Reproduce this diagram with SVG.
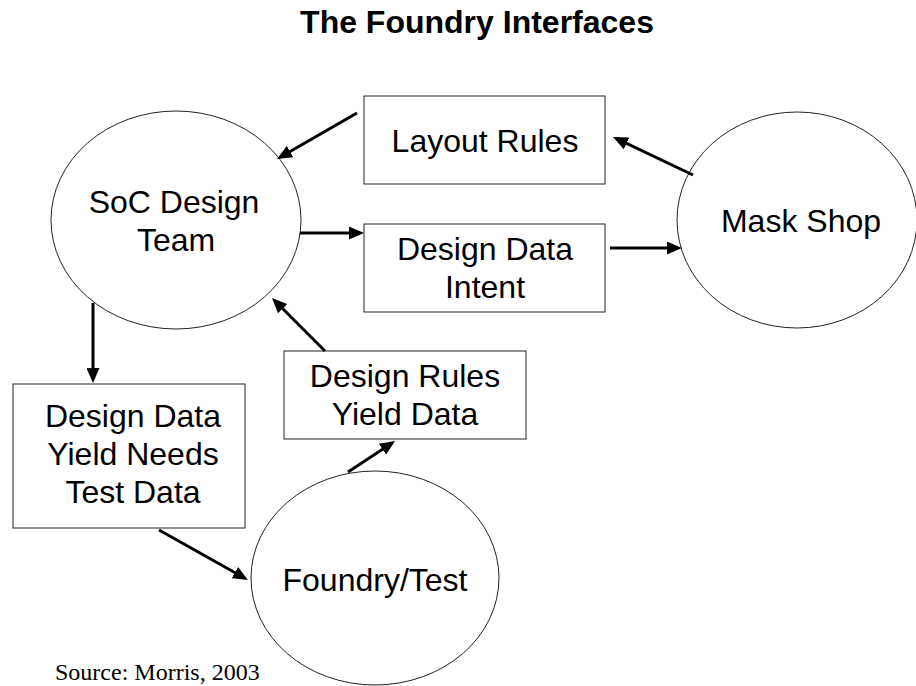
<svg xmlns="http://www.w3.org/2000/svg" width="916" height="686" viewBox="0 0 916 686">
<style>
.shape{fill:#fff;stroke:#222;stroke-width:1}
.lbl{font-family:"Liberation Sans",Arial,sans-serif;font-size:32px;fill:#000;text-anchor:middle}
.title{font-family:"Liberation Sans",Arial,sans-serif;font-size:32px;font-weight:bold;fill:#000;text-anchor:middle}
.src{font-family:"Liberation Serif","Times New Roman",serif;font-size:24px;fill:#000}
.conn{stroke:#000;stroke-width:3;fill:none;marker-end:url(#ah)}
</style>
<defs>
<marker id="ah" viewBox="0 0 15 13" refX="11" refY="6.5" markerWidth="15" markerHeight="13" markerUnits="userSpaceOnUse" orient="auto">
<path d="M0,0 L15,6.5 L0,13 z" fill="#000"/>
</marker>
</defs>
<rect width="916" height="686" fill="#fff"/>
<text class="title" x="477" y="33">The Foundry Interfaces</text>
<g id="soc">
<ellipse class="shape" cx="176" cy="220" rx="125" ry="109"/>
<text class="lbl" x="174" y="213">SoC Design</text>
<text class="lbl" x="176" y="251">Team</text>
</g>
<g id="layout-rules">
<rect class="shape" x="364" y="96" width="241" height="88"/>
<text class="lbl" x="485" y="152">Layout Rules</text>
</g>
<g id="design-data-intent">
<rect class="shape" x="364" y="224" width="241" height="88"/>
<text class="lbl" x="485" y="260">Design Data</text>
<text class="lbl" x="485" y="298">Intent</text>
</g>
<g id="mask-shop">
<ellipse class="shape" cx="797" cy="220" rx="120" ry="108"/>
<text class="lbl" x="801" y="232">Mask Shop</text>
</g>
<g id="design-data-yield">
<rect class="shape" x="13" y="384" width="232" height="144"/>
<text class="lbl" x="133" y="427">Design Data</text>
<text class="lbl" x="133" y="465">Yield Needs</text>
<text class="lbl" x="133" y="503">Test Data</text>
</g>
<g id="design-rules">
<rect class="shape" x="284" y="351" width="242" height="88"/>
<text class="lbl" x="405" y="387">Design Rules</text>
<text class="lbl" x="405" y="425">Yield Data</text>
</g>
<g id="foundry">
<ellipse class="shape" cx="375" cy="578" rx="124" ry="107"/>
<text class="lbl" x="375" y="591">Foundry/Test</text>
</g>
<g id="connectors">
<line class="conn" x1="357" y1="113" x2="280.5" y2="157"/>
<line class="conn" x1="300" y1="233" x2="360" y2="233"/>
<line class="conn" x1="610" y1="248" x2="678" y2="248"/>
<line class="conn" x1="693" y1="175" x2="616.6" y2="138.7"/>
<line class="conn" x1="93" y1="303" x2="93" y2="379"/>
<line class="conn" x1="325" y1="351" x2="274.8" y2="300.8"/>
<line class="conn" x1="348" y1="472" x2="391.7" y2="443.2"/>
<line class="conn" x1="159" y1="530" x2="244.5" y2="578"/>
</g>
<text class="src" x="55" y="680">Source: Morris, 2003</text>
</svg>
